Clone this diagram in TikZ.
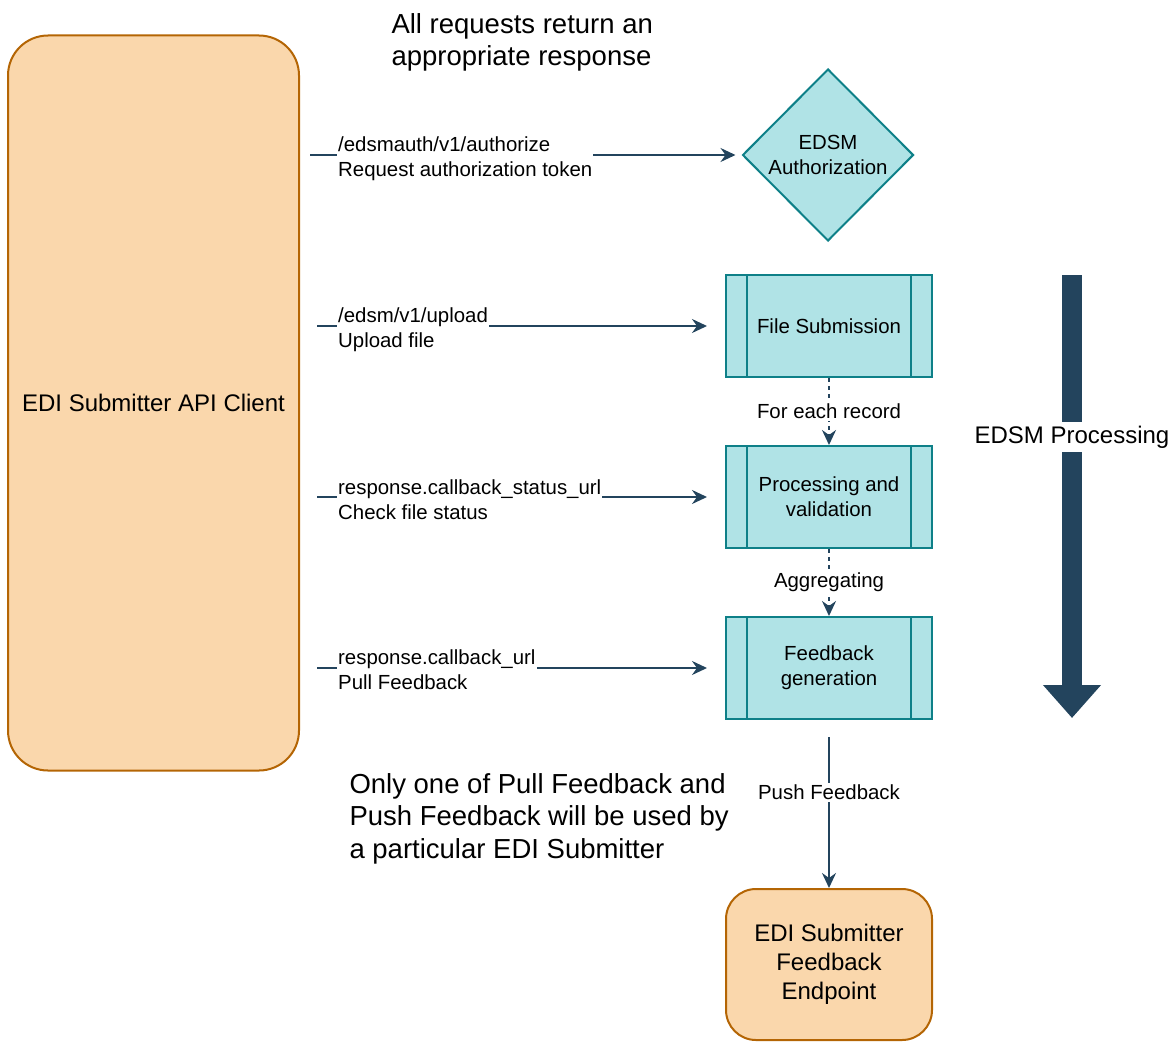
\documentclass[tikz,border=0pt]{standalone}
\usepackage{fontspec}
\setmainfont{Liberation Sans}
\usetikzlibrary{shapes.geometric,arrows.meta}

\definecolor{tealfill}{HTML}{B0E3E6}
\definecolor{tealline}{HTML}{0E8088}
\definecolor{orangefill}{HTML}{FAD7AC}
\definecolor{orangeline}{HTML}{B46504}
\definecolor{navy}{HTML}{23445D}

\newcommand{\fsmall}{\fontsize{20.4}{25}\selectfont}
\newcommand{\fmid}{\fontsize{24}{29}\selectfont}
\newcommand{\fbig}{\fontsize{27.5}{32.5}\selectfont}

\tikzset{
  clientbox/.style={draw=orangeline, fill=orangefill, line width=2pt, rounded corners=40pt, font=\fmid, align=center},
  procbox/.style={draw=tealline, fill=tealfill, line width=2pt, minimum width=206pt, minimum height=102pt,
    font=\fsmall, align=center,
    path picture={
      \draw[tealline, line width=2pt] ([xshift=21pt]path picture bounding box.north west) -- ([xshift=21pt]path picture bounding box.south west);
      \draw[tealline, line width=2pt] ([xshift=-21pt]path picture bounding box.north east) -- ([xshift=-21pt]path picture bounding box.south east);
    }},
  flow/.style={navy, line width=2pt, -{Stealth[length=15pt,width=14pt,inset=5pt]}},
  dotflow/.style={flow, dash pattern=on 4pt off 4pt},
  calllbl/.style={fill=white, text=black, font=\fsmall, align=left, inner xsep=1pt, inner ysep=0pt, anchor=base west},
  steplbl/.style={fill=white, text=black, font=\fsmall, inner sep=2pt}
}

\begin{document}
\begin{tikzpicture}[x=1pt,y=-1pt]
  \useasboundingbox (0,0) rectangle (1174,1041);

  % boxes
  \node[clientbox, minimum width=291pt, minimum height=735pt] (client) at (153.5,403) {EDI Submitter API Client};
  \node[diamond, draw=tealline, fill=tealfill, line width=2pt, minimum width=171pt, minimum height=172pt,
        inner sep=0pt, font=\fsmall, align=center] (auth) at (828,155) {EDSM\\Authorization};
  \node[procbox] (upload) at (829,326) {File Submission};
  \node[procbox] (status) at (829,497) {Processing and\\validation};
  \node[procbox] (feedback) at (829,668) {Feedback\\generation};
  \node[clientbox, rounded corners=30pt, minimum width=206pt, minimum height=151pt] (endpoint) at (829,964.5) {EDI Submitter\\Feedback\\Endpoint};

  % free texts (base = last line)
  \node[font=\fbig, align=left, anchor=base west] (title) at (388,66) {All requests return an\\appropriate response};
  \node[font=\fbig, align=left, anchor=base west] (note) at (346,858) {Only one of Pull Feedback and\\Push Feedback will be used by\\a particular EDI Submitter};

  % calls from the client
  \coordinate (s-auth) at (310,155);
  \coordinate (s-upload) at (317,326);
  \coordinate (s-status) at (317,497);
  \coordinate (s-pull) at (317,668);
  \draw[flow, shorten >=6pt] (s-auth) -- (auth.west);
  \draw[flow, shorten >=18pt] (s-upload) -- (upload.west);
  \draw[flow, shorten >=18pt] (s-status) -- (status.west);
  \draw[flow, shorten >=18pt] (s-pull) -- (feedback.west);
  \node[calllbl] (l-auth) at (337,176) {/edsmauth/v1/authorize\\Request authorization token};
  \node[calllbl] (l-upload) at (337,347) {/edsm/v1/upload\\Upload file};
  \node[calllbl] (l-status) at (337,519) {response.callback\_status\_url\\Check file status};
  \node[calllbl] (l-pull) at (337,689) {response.callback\_url\\Pull Feedback};

  % processing steps
  \draw[dotflow] (upload) -- node[steplbl] {For each record} (status);
  \draw[dotflow] (status) -- node[steplbl] {Aggregating} (feedback);
  \draw[flow, shorten <=17pt] (feedback) -- node[steplbl, pos=0.43] {Push Feedback} (endpoint);

  % EDSM processing arrow
  \coordinate (p-top) at (1072,275);
  \coordinate (p-end) at (1072,718);
  \draw[navy, line width=20pt, -{Triangle[length=33pt,width=56pt]}] (p-top) -- (p-end);
  \node[fill=white, font=\fmid, inner xsep=2pt, inner ysep=4pt] (p-lbl) at (1072,437) {EDSM Processing};
\end{tikzpicture}
\end{document}
